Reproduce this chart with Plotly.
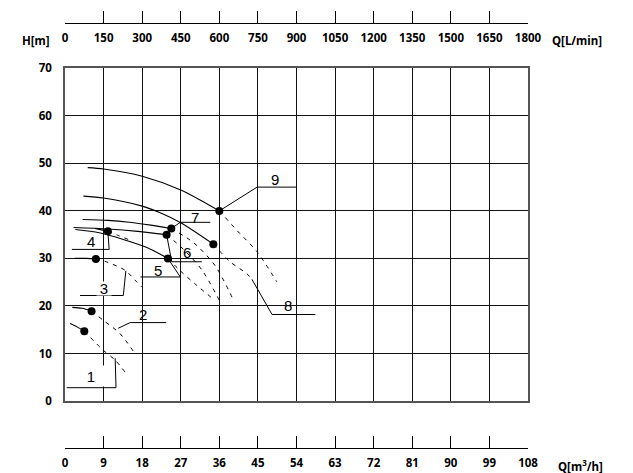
import plotly.graph_objects as go

# ---------------- data ----------------
q_ticks = [0, 9, 18, 27, 36, 45, 54, 63, 72, 81, 90, 99, 108]           # m3/h
lmin_labels = ["0", "150", "300", "450", "600", "750", "900", "1050", "1200",
               "1350", "1500", "1650", "1800"]                           # L/min
h_ticks = [0, 10, 20, 30, 40, 50, 60, 70]

# solid parts of the curves (Q m3/h, H m)
c1_q = [1.2, 2.8, 4.5];            c1_h = [16.3, 15.6, 14.7]
c2_q = [1.7, 4.0, 6.2];            c2_h = [19.7, 19.5, 18.9]
c3_q = [2.3, 5.0, 7.2];            c3_h = [30.0, 30.0, 29.9]
c4_q = [7.0, 8.5, 10.0];           c4_h = [36.3, 36.0, 35.7]
c5_q = [2.4, 8.0, 13.6, 19.1, 24.0]; c5_h = [36.1, 35.4, 34.0, 32.3, 30.0]
c6_q = [2.0, 10.0, 17.0, 23.7];    c6_h = [36.5, 36.2, 35.7, 35.0]
c7_q = [4.1, 10.0, 15.0, 20.0, 24.8]; c7_h = [38.2, 38.0, 37.6, 37.0, 36.3]
c8_q = [4.3, 9.0, 18.0, 22.2, 27.0, 34.6]; c8_h = [43.1, 42.7, 41.0, 39.6, 37.5, 33.0]
c9_q = [5.3, 9.0, 18.0, 27.0, 36.0]; c9_h = [49.1, 48.8, 47.3, 44.4, 40.0]

# dashed continuations
d1_q = [4.5, 8.9, 11.7, 14.5];     d1_h = [14.7, 10.7, 8.6, 5.5]
d2_q = [6.2, 8.9, 12.8, 16.0];     d2_h = [18.9, 17.0, 14.2, 10.4]
d3_q = [7.2, 9.3, 14.0, 16.7, 17.9]; d3_h = [29.9, 29.4, 27.5, 25.1, 24.0]
d4_q = [10.0, 12.5, 15.0];         d4_h = [35.7, 34.8, 33.9]
d5_q = [24.0, 27.0, 30.5, 34.5];   d5_h = [30.0, 27.3, 24.5, 21.5]
d6_q = [23.7, 28.0, 32.0, 36.0];   d6_h = [35.0, 31.6, 27.5, 21.2]
d7_q = [24.8, 30.0, 35.0, 39.3];   d7_h = [36.3, 33.3, 28.5, 21.2]
d8_q = [34.6, 38.5, 42.4, 43.6];   d8_h = [33.0, 29.3, 26.8, 25.6]
d9_q = [36.0, 40.1, 44.8, 49.4];   d9_h = [40.0, 35.9, 31.4, 25.1]

# duty points
pt_q = [4.5, 6.2, 7.2, 10.0, 24.0, 23.7, 24.8, 34.6, 36.0]
pt_h = [14.7, 18.9, 29.9, 35.7, 30.0, 35.0, 36.3, 33.0, 40.0]

# leader lines for the curve numbers
l1_q = [11.7, 11.9, 0.4];   l1_h = [9.0, 2.8, 2.8]
l2_q = [12.4, 15.2, 23.6];  l2_h = [15.3, 16.5, 16.5]
l3_q = [14.2, 13.6, 3.5];   l3_h = [27.4, 22.2, 22.2]
l4_q = [10.0, 10.3, 1.6];   l4_h = [35.7, 31.9, 31.9]
l5_q = [24.0, 26.9, 17.6];  l5_h = [30.0, 26.1, 26.1]
l6_q = [23.7, 24.9, 31.9];  l6_h = [35.0, 29.3, 29.3]
l7_q = [24.8, 26.9, 33.9];  l7_h = [36.3, 37.6, 37.6]
l8_q = [43.6, 48.3, 58.4];  l8_h = [25.6, 18.2, 18.2]
l9_q = [36.0, 44.8, 54.0];  l9_h = [40.0, 45.0, 45.0]

# curve number labels
lab_text = ["1", "2", "3", "4", "5", "6", "7", "8", "9"]
lab_q = [6.0, 18.3, 9.2, 6.1, 21.7, 28.5, 30.4, 51.9, 48.9]
lab_h = [5.35, 18.1, 23.65, 33.6, 27.4, 31.3, 38.6, 20.2, 46.5]
lab_box = [True, False, True, False, False, False, False, False, False]

# ---------------- figure ----------------
fig = go.Figure()

solid = [(c1_q, c1_h), (c2_q, c2_h), (c3_q, c3_h), (c4_q, c4_h), (c5_q, c5_h),
         (c6_q, c6_h), (c7_q, c7_h), (c8_q, c8_h), (c9_q, c9_h)]
dashed = [(d1_q, d1_h), (d2_q, d2_h), (d3_q, d3_h), (d4_q, d4_h), (d5_q, d5_h),
          (d6_q, d6_h), (d7_q, d7_h), (d8_q, d8_h), (d9_q, d9_h)]
leaders = [(l1_q, l1_h), (l2_q, l2_h), (l3_q, l3_h), (l4_q, l4_h), (l5_q, l5_h),
           (l6_q, l6_h), (l7_q, l7_h), (l8_q, l8_h), (l9_q, l9_h)]

for q, h in solid:
    fig.add_trace(go.Scatter(x=q, y=h, mode="lines",
                             line=dict(color="black", width=1.1, shape="spline", smoothing=0.8),
                             showlegend=False, hoverinfo="skip"))
for q, h in dashed:
    fig.add_trace(go.Scatter(x=q, y=h, mode="lines",
                             line=dict(color="black", width=1, dash="4px,5px", shape="spline", smoothing=0.8),
                             showlegend=False, hoverinfo="skip"))
for q, h in leaders:
    fig.add_trace(go.Scatter(x=q, y=h, mode="lines",
                             line=dict(color="black", width=1),
                             showlegend=False, hoverinfo="skip"))

fig.add_trace(go.Scatter(x=pt_q, y=pt_h, mode="markers",
                         marker=dict(color="black", size=8),
                         showlegend=False, hoverinfo="skip"))

# invisible traces to carry the two outer scales
fig.add_trace(go.Scatter(x=[q_ticks[0], q_ticks[-1]], y=[0, 0], mode="lines",
                         line=dict(width=0), opacity=0, xaxis="x2", yaxis="y",
                         showlegend=False, hoverinfo="skip"))
fig.add_trace(go.Scatter(x=[q_ticks[0], q_ticks[-1]], y=[0, 0], mode="lines",
                         line=dict(width=0), opacity=0, xaxis="x3", yaxis="y",
                         showlegend=False, hoverinfo="skip"))

tick_font = dict(family="Noto Sans", size=11.5, color="black", weight="bold")
rng = [q_ticks[0], q_ticks[-1]]

for t, q, h, box in zip(lab_text, lab_q, lab_h, lab_box):
    ann = dict(x=q, y=h, xref="x", yref="y", text=t, showarrow=False,
               font=dict(family="Liberation Sans", size=15, color="black"),
               xanchor="center", yanchor="middle")
    if box:
        ann.update(bgcolor="white", width=26 if t == "1" else 14,
                   height=20 if t == "1" else 13, borderpad=0)
    fig.add_annotation(**ann)

fig.add_annotation(x=-0.028, y=0.9154, xref="paper", yref="paper", text="H[m]",
                   showarrow=False, font=tick_font, xanchor="right", yanchor="middle")
fig.add_annotation(x=1.0475, y=0.9154, xref="paper", yref="paper", text="Q[L/min]",
                   showarrow=False, font=tick_font, xanchor="left", yanchor="middle")
fig.add_annotation(x=1.0605, y=0.0169, xref="paper", yref="paper", text="Q[m<sup>3</sup>/h]",
                   showarrow=False, font=tick_font, xanchor="left", yanchor="middle")

fig.update_layout(
    width=633, height=473,
    margin=dict(l=65, r=105, t=0, b=0, autoexpand=False),
    paper_bgcolor="white", plot_bgcolor="white",
    showlegend=False,
    xaxis=dict(range=rng, tickvals=q_ticks, showticklabels=False, ticks="",
               showgrid=True, gridcolor="#111", gridwidth=1,
               showline=True, linecolor="#555", linewidth=1.5, mirror=True,
               zeroline=False, fixedrange=True, automargin=False),
    yaxis=dict(range=[h_ticks[0], h_ticks[-1]], domain=[0.1522, 0.8556],
               tickvals=h_ticks, ticks="", tickfont=tick_font, ticklabelstandoff=9,
               showgrid=True, gridcolor="#111", gridwidth=1,
               showline=True, linecolor="#555", linewidth=1.5, mirror=True,
               zeroline=False, fixedrange=True, automargin=False),
    xaxis2=dict(range=rng, overlaying="x", anchor="free", position=0.9507, side="bottom",
                tickvals=q_ticks, ticktext=lmin_labels, ticks="inside", ticklen=12,
                tickcolor="black", tickwidth=1, showline=True, linecolor="black", linewidth=1,
                showgrid=False, zeroline=False, tickfont=tick_font, fixedrange=True,
                automargin=False, ticklabelstandoff=4),
    xaxis3=dict(range=rng, overlaying="x", anchor="free", position=0.0522, side="bottom",
                tickvals=q_ticks, ticktext=[str(v) for v in q_ticks], ticks="inside", ticklen=12,
                tickcolor="black", tickwidth=1, showline=True, linecolor="black", linewidth=1,
                showgrid=False, zeroline=False, tickfont=tick_font, fixedrange=True,
                automargin=False, ticklabelstandoff=4),
)

fig.write_html("out.html")
